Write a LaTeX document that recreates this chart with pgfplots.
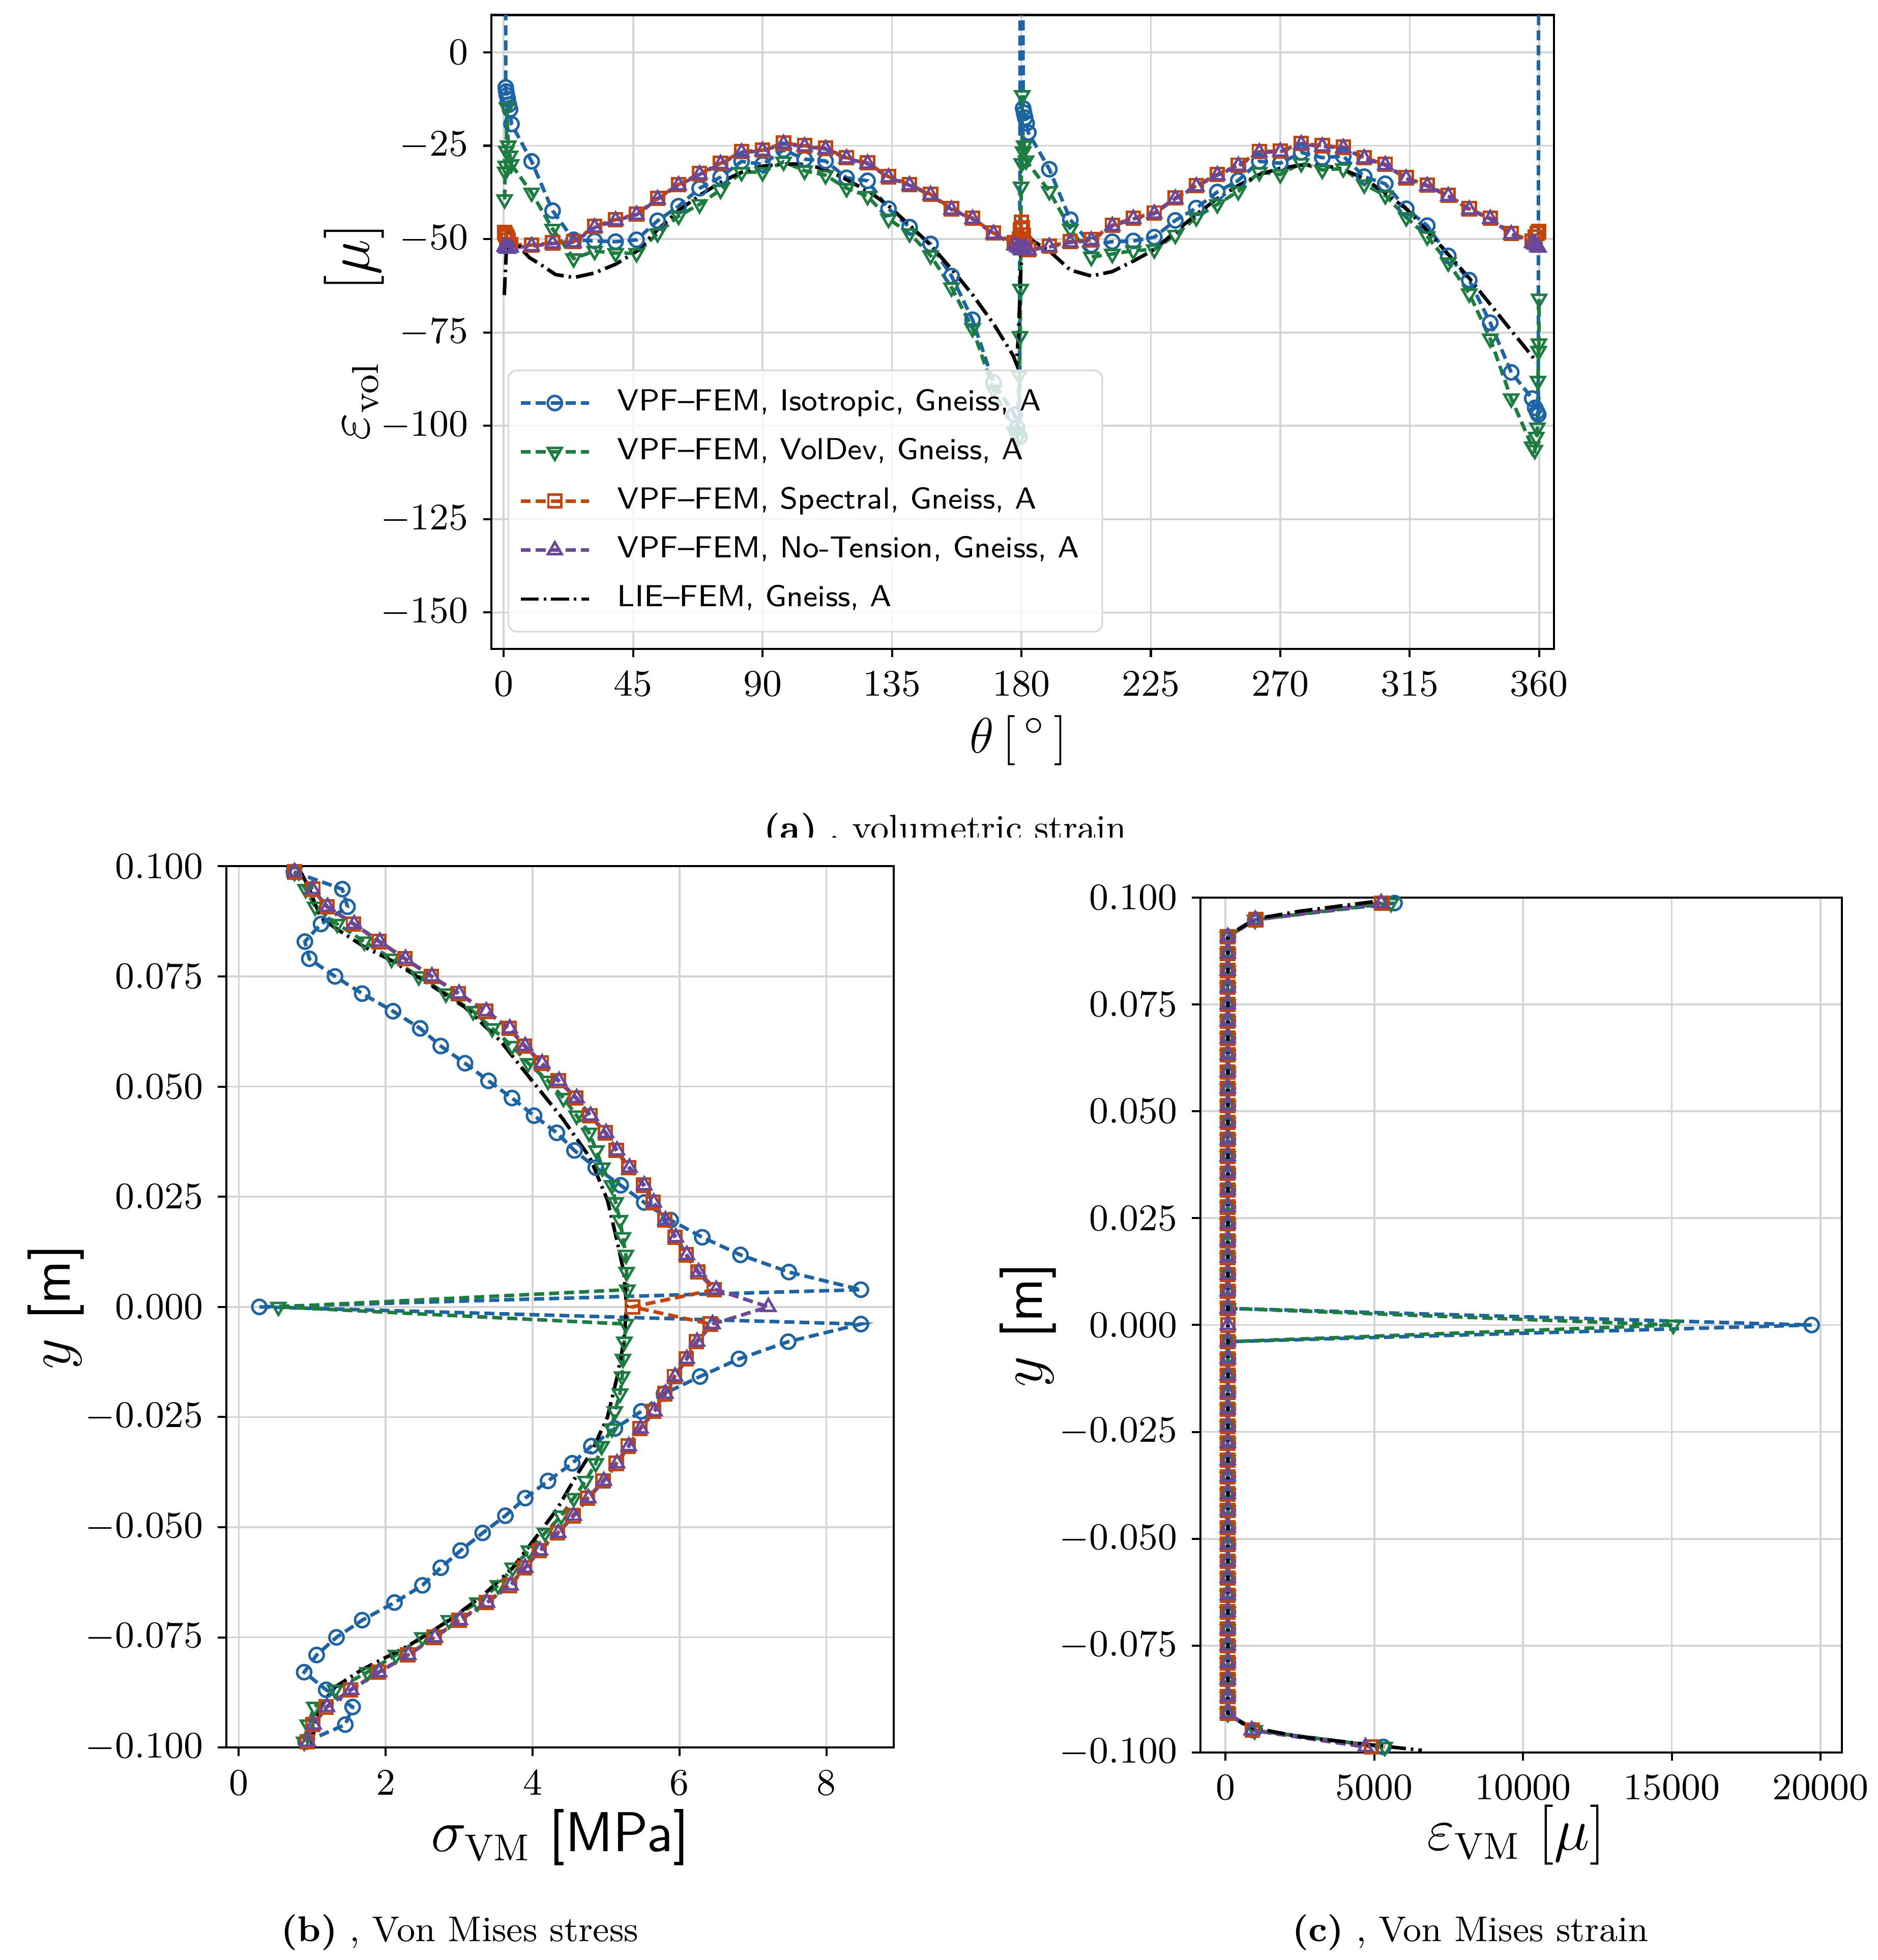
\documentclass[border=0pt]{standalone}
\usepackage{pgfplots}
\usepackage{pgfplotstable}
\pgfplotsset{compat=1.18}

\definecolor{cIso}{RGB}{28,100,168}
\definecolor{cVD}{RGB}{28,126,62}
\definecolor{cSp}{RGB}{200,68,6}
\definecolor{cNT}{RGB}{105,72,155}

\pgfplotsset{
  every axis/.append style={
    scale only axis, anchor=north west,
    tick align=outside, tick pos=left, major tick length=2pt,
    grid=major, grid style={black!17, line width=0.45pt},
    axis line style={line width=0.5pt},
    tick style={black, line width=0.5pt},
    tick label style={font=\fontsize{9.5}{11}\selectfont},
    label style={font=\fontsize{13.5}{16}\selectfont},
  },
  iso/.style={cIso, line width=0.85pt, dash pattern=on 2.4pt off 1.2pt,
    mark=o, mark size=1.7pt, mark options={solid, line width=0.6pt}},
  vd/.style={cVD, line width=0.85pt, dash pattern=on 2.4pt off 1.2pt,
    mark=triangle, mark size=1.9pt, mark options={solid, rotate=180, line width=0.6pt}},
  sp/.style={cSp, line width=0.85pt, dash pattern=on 2.4pt off 1.2pt,
    mark=square, mark size=1.55pt, mark options={solid, line width=0.6pt}},
  nt/.style={cNT, line width=0.85pt, dash pattern=on 2.4pt off 1.2pt,
    mark=triangle, mark size=1.9pt, mark options={solid, line width=0.6pt}},
  lie/.style={black, line width=0.85pt, dash pattern=on 4.3pt off 1.2pt on 0.6pt off 1.2pt},
}

% sigma_VM along y (MPa)
\pgfplotstableread{
y iso vd sp nt
0.0987 0.75 0.76 0.76 0.76
0.0948 1.41 0.91 1.01 1.00
0.0908 1.48 1.04 1.20 1.21
0.0869 1.12 1.34 1.56 1.57
0.0829 0.90 1.71 1.91 1.92
0.0790 0.96 2.08 2.26 2.27
0.0750 1.31 2.45 2.62 2.63
0.0711 1.68 2.82 2.99 3.00
0.0671 2.10 3.19 3.36 3.37
0.0632 2.47 3.45 3.68 3.69
0.0592 2.75 3.72 3.89 3.90
0.0553 3.08 3.94 4.12 4.13
0.0513 3.40 4.21 4.35 4.36
0.0474 3.72 4.42 4.59 4.60
0.0434 4.02 4.60 4.78 4.79
0.0395 4.33 4.77 4.99 5.00
0.0355 4.57 4.87 5.14 5.15
0.0316 4.86 4.95 5.31 5.32
0.0276 5.20 5.08 5.51 5.52
0.0237 5.52 5.13 5.64 5.65
0.0197 5.88 5.19 5.80 5.81
0.0158 6.31 5.23 5.94 5.95
0.0118 6.83 5.27 6.09 6.10
0.0079 7.49 5.28 6.25 6.26
0.0039 8.47 5.29 6.47 6.50
0.0000 0.28 0.54 5.36 7.21
-0.0039 8.47 5.27 6.42 6.45
-0.0079 7.48 5.25 6.23 6.24
-0.0118 6.81 5.23 6.09 6.10
-0.0158 6.28 5.22 5.93 5.94
-0.0197 5.79 5.19 5.80 5.81
-0.0237 5.48 5.12 5.65 5.66
-0.0276 5.12 5.08 5.46 5.47
-0.0316 4.80 4.94 5.30 5.31
-0.0355 4.54 4.86 5.14 5.15
-0.0395 4.21 4.72 4.96 4.97
-0.0434 3.90 4.56 4.75 4.76
-0.0474 3.63 4.39 4.55 4.56
-0.0513 3.32 4.17 4.34 4.35
-0.0553 3.02 3.95 4.09 4.10
-0.0592 2.75 3.73 3.89 3.90
-0.0632 2.50 3.53 3.69 3.70
-0.0671 2.12 3.25 3.37 3.38
-0.0711 1.68 2.86 3.00 3.01
-0.0750 1.33 2.50 2.66 2.67
-0.0790 1.06 2.14 2.30 2.31
-0.0829 0.89 1.75 1.90 1.91
-0.0869 1.19 1.31 1.52 1.53
-0.0908 1.55 1.03 1.19 1.20
-0.0948 1.45 0.94 1.01 1.02
-0.0987 0.91 0.89 0.93 0.94
}\sigtab

% eps_VM along y (micro)
\pgfplotstableread{
y iso vd sp nt
0.0987 5680 5560 5250 5230
0.0948 1000 990 1020 1000
0.0908 80 75 70 75
0.0869 80 75 70 75
0.0829 80 75 70 75
0.0790 80 75 70 75
0.0750 80 75 70 75
0.0711 80 75 70 75
0.0671 80 75 70 75
0.0632 80 75 70 75
0.0592 80 75 70 75
0.0553 80 75 70 75
0.0513 80 75 70 75
0.0474 80 75 70 75
0.0434 80 75 70 75
0.0395 80 75 70 75
0.0355 80 75 70 75
0.0316 80 75 70 75
0.0276 80 75 70 75
0.0237 80 75 70 75
0.0197 80 75 70 75
0.0158 80 75 70 75
0.0118 80 75 70 75
0.0079 80 75 70 75
0.0039 90 85 70 75
0.0000 19700 15050 80 80
-0.0039 90 85 70 75
-0.0079 80 75 70 75
-0.0118 80 75 70 75
-0.0158 80 75 70 75
-0.0197 80 75 70 75
-0.0237 80 75 70 75
-0.0276 80 75 70 75
-0.0316 80 75 70 75
-0.0355 80 75 70 75
-0.0395 80 75 70 75
-0.0434 80 75 70 75
-0.0474 80 75 70 75
-0.0513 80 75 70 75
-0.0553 80 75 70 75
-0.0592 80 75 70 75
-0.0632 80 75 70 75
-0.0671 80 75 70 75
-0.0711 80 75 70 75
-0.0750 80 75 70 75
-0.0790 80 75 70 75
-0.0829 80 75 70 75
-0.0869 80 75 70 75
-0.0908 80 75 70 75
-0.0948 950 980 900 880
-0.0987 5300 5350 4900 4700
}\epstab

\begin{document}
\begin{tikzpicture}
\useasboundingbox (0pt,0pt) rectangle (450.6pt,-470.4pt);

% ---------------- (a) volumetric strain ----------------
\begin{axis}[
  at={(117.9pt,-3.6pt)}, width=255pt, height=152.1pt,
  xmin=-4.3, xmax=365.2, ymin=-159.7, ymax=10,
  xtick={0,45,90,135,180,225,270,315,360},
  ytick={-150,-125,-100,-75,-50,-25,0},
  xlabel={$\theta\,[\,{}^{\circ}\,]$},
  ylabel={$\varepsilon_{\mathrm{vol}}\hspace{17pt}[\mu]$},
  xlabel style={at={(axis description cs:0.496,-0.145)}, anchor=center,
    font=\fontsize{13}{15}\selectfont},
  ylabel style={at={(axis description cs:-0.129,0.5)}, anchor=center},
  legend cell align=left,
  legend image code/.code={\draw[mark repeat=2, mark phase=2] plot coordinates {(0pt,0pt) (8.2pt,0pt) (16.4pt,0pt)};
    \path (19.8pt,0pt);},
  legend style={at={(axis description cs:0.0153,0.0256)}, anchor=south west,
    draw=black!15, rounded corners=2pt, fill=white, fill opacity=0.8, text opacity=1,
    font=\fontsize{7.3}{8.5}\sffamily, row sep=1.1pt, inner sep=2.5pt,
    nodes={inner xsep=3pt}},
]
\addplot[iso] coordinates {
(0.7,200) (0.7,-9.4) (0.9,-10.5) (1.1,-11.5) (1.4,-12.5) (1.8,-14.0) (2.2,-15.3) (2.7,-19.2)
(9.7,-29.2) (17.0,-42.4) (24.3,-50.2) (31.6,-50.5) (38.9,-50.7) (46.2,-50.2) (53.5,-45.1)
(60.8,-41.2) (68.1,-36.4) (75.4,-33.4) (82.7,-29.2) (90.0,-30.0) (97.3,-26.1) (104.6,-28.6)
(111.9,-29.1) (119.2,-33.6) (126.5,-34.4) (133.8,-41.9) (141.1,-46.8) (148.4,-51.3)
(155.7,-59.9) (163.0,-71.6) (170.3,-88.4) (177.6,-97.0) (178.5,-100.5) (179.3,-103.0)
(180.0,200) (180.6,-15.0) (180.9,-16.2) (181.3,-17.5) (181.8,-19.0) (182.4,-21.5)
(189.7,-31.3) (197.0,-44.8) (204.3,-51.6) (211.6,-50.7) (218.9,-50.5) (226.2,-49.5)
(233.5,-45.0) (240.8,-41.7) (248.1,-37.4) (255.4,-34.3) (262.7,-29.2) (270.0,-29.7)
(277.3,-26.8) (284.6,-28.2) (291.9,-27.8) (299.2,-33.3) (306.5,-35.2) (313.8,-41.9)
(321.1,-46.4) (328.4,-54.5) (335.7,-61.0) (343.0,-72.4) (350.3,-85.7) (357.6,-92.7)
(358.6,-95.2) (359.3,-96.3) (359.7,-97.0) (360.0,200)
};
\addlegendentry{VPF--FEM, Isotropic, Gneiss, A}
\addplot[vd] coordinates {
(0.3,-39.4) (0.5,-32.0) (0.7,-30.4) (0.9,-26.4) (1.1,-14.7) (1.6,-25.0) (2.2,-27.7) (2.6,-30.0)
(9.7,-37.6) (17.0,-47.3) (24.3,-55.2) (31.6,-53.2) (38.9,-53.8) (46.2,-53.8) (53.5,-48.5)
(60.8,-43.8) (68.1,-40.7) (75.4,-36.8) (82.7,-32.1) (90.0,-32.1) (97.3,-29.3) (104.6,-31.7)
(111.9,-32.9) (119.2,-36.4) (126.5,-38.5) (133.8,-44.6) (141.1,-48.5) (148.4,-54.4)
(155.7,-63.0) (163.0,-73.9) (170.3,-90.4) (177.6,-101.7) (178.6,-103.5) (179.2,-86.5)
(179.5,-76.0) (179.7,-63.4) (179.9,-36.0) (180.1,-29.7) (180.3,-11.5) (180.6,-26.6)
(181.0,-25.0) (181.6,-29.0)
(189.7,-37.2) (197.0,-47.3) (204.3,-54.8) (211.6,-54.0) (218.9,-53.1) (226.2,-52.8)
(233.5,-48.9) (240.8,-44.2) (248.1,-40.7) (255.4,-37.2) (262.7,-32.1) (270.0,-32.7)
(277.3,-29.7) (284.6,-31.5) (291.9,-31.1) (299.2,-35.4) (306.5,-38.3) (313.8,-44.2)
(321.1,-49.3) (328.4,-56.3) (335.7,-64.6) (343.0,-76.7) (350.3,-92.7) (357.6,-105.6)
(358.5,-106.5) (359.0,-103.0) (359.4,-100.5) (359.6,-88.0) (359.8,-80.0) (359.9,-78.0) (360.0,-66.0)
};
\addlegendentry{VPF--FEM, VolDev, Gneiss, A}
\addplot[sp] coordinates {
(0.3,-48.2) (0.7,-48.8) (1.1,-49.5) (1.6,-50.3) (2.4,-51.5) (9.7,-51.6) (17.0,-51.0)
(24.3,-50.7) (31.6,-46.6) (38.9,-44.8) (46.2,-43.3) (53.5,-39.1) (60.8,-35.4) (68.1,-32.5)
(75.4,-29.7) (82.7,-26.6) (90.0,-26.2) (97.3,-24.3) (104.6,-25.0) (111.9,-25.7) (119.2,-28.2)
(126.5,-29.6) (133.8,-33.3) (141.1,-35.4) (148.4,-38.0) (155.7,-41.9) (163.0,-44.4)
(170.3,-48.4) (177.6,-51.0) (178.6,-51.5) (179.3,-50.0) (179.7,-47.5) (180.0,-45.5)
(180.3,-47.0) (180.7,-49.0) (181.2,-51.5) (182.5,-52.8) (189.7,-51.9) (197.0,-50.7)
(204.3,-50.2) (211.6,-46.3) (218.9,-44.4) (226.2,-43.0) (233.5,-39.0) (240.8,-35.7)
(248.1,-32.7) (255.4,-30.2) (262.7,-26.6) (270.0,-26.4) (277.3,-24.4) (284.6,-25.0)
(291.9,-25.4) (299.2,-28.2) (306.5,-30.0) (313.8,-33.6) (321.1,-35.6) (328.4,-38.3)
(335.7,-41.9) (343.0,-44.4) (350.3,-48.5) (357.6,-50.5) (358.6,-49.5) (359.3,-48.5) (359.8,-48.0)
};
\addlegendentry{VPF--FEM, Spectral, Gneiss, A}
\addplot[nt] coordinates {
(0.3,-52.0) (0.8,-52.4) (1.5,-52.6) (2.4,-52.3) (9.7,-51.9) (17.0,-51.2) (24.3,-50.9)
(31.6,-46.9) (38.9,-45.0) (46.2,-43.5) (53.5,-39.3) (60.8,-35.6) (68.1,-32.7) (75.4,-29.9)
(82.7,-26.8) (90.0,-26.4) (97.3,-24.5) (104.6,-25.2) (111.9,-25.9) (119.2,-28.4) (126.5,-29.8)
(133.8,-33.5) (141.1,-35.6) (148.4,-38.2) (155.7,-42.1) (163.0,-44.6) (170.3,-48.6)
(177.6,-51.6) (178.6,-52.2) (179.5,-52.6) (180.0,-53.0) (180.5,-52.6) (181.5,-52.2)
(182.5,-53.0) (189.7,-52.1) (197.0,-50.9) (204.3,-50.4) (211.6,-46.5) (218.9,-44.6)
(226.2,-43.2) (233.5,-39.2) (240.8,-35.9) (248.1,-32.9) (255.4,-30.4) (262.7,-26.8)
(270.0,-26.6) (277.3,-24.6) (284.6,-25.2) (291.9,-25.6) (299.2,-28.4) (306.5,-30.2)
(313.8,-33.8) (321.1,-35.8) (328.4,-38.5) (335.7,-42.1) (343.0,-44.6) (350.3,-48.7)
(357.6,-51.0) (358.6,-51.5) (359.3,-52.0) (359.8,-52.3)
};
\addlegendentry{VPF--FEM, No-Tension, Gneiss, A}
\addplot[lie] coordinates {
(0.2,-65.0) (0.6,-58.0) (1.0,-52.0) (1.5,-48.5) (2.0,-47.5) (3.5,-49.5) (5.8,-52.4) (9.0,-55.0)
(12.6,-56.7) (18.0,-59.5) (24.4,-60.3) (31.5,-59.1) (39.0,-56.7) (46.4,-53.2) (53.2,-47.7)
(60.9,-42.3) (68.1,-38.3) (75.4,-34.8) (82.7,-32.1) (90.0,-30.5) (97.4,-29.9) (102.6,-29.9)
(108.7,-30.7) (114.0,-32.1) (119.0,-34.0) (127.6,-37.6) (133.8,-41.1) (141.0,-46.2)
(148.4,-51.6) (156.0,-58.3) (163.0,-64.9) (170.4,-72.8) (177.0,-81.0) (178.3,-83.5)
(179.0,-75.0) (179.6,-62.0) (180.2,-52.0) (181.0,-47.8) (181.6,-48.2) (184.0,-50.5)
(189.7,-53.2) (197.0,-58.3) (204.3,-59.9) (211.6,-58.7) (218.9,-55.9) (226.2,-52.8)
(233.4,-48.1) (240.8,-43.4) (248.2,-39.1) (255.5,-35.6) (262.8,-32.7) (269.7,-31.1)
(277.1,-30.2) (284.5,-30.2) (291.8,-31.3) (299.1,-33.8) (306.4,-37.6) (313.8,-41.9)
(321.0,-47.7) (328.3,-54.0) (335.5,-60.3) (342.8,-67.3) (350.1,-74.3) (357.6,-81.4) (359.0,-83.0)
};
\addlegendentry{LIE--FEM, Gneiss, A}
\end{axis}

\begin{scope}
\clip (150pt,-190pt) rectangle (300pt,-201pt);
\node[anchor=base, font=\fontsize{8.6}{10.5}\selectfont, inner sep=0pt] at (226.8pt,-201.6pt)
  {\textbf{(a)} , volumetric strain};
\end{scope}

% ---------------- (b) Von Mises stress ----------------
\begin{axis}[
  at={(54.3pt,-207.9pt)}, width=160.2pt, height=211.5pt,
  xmin=-0.17, xmax=8.92, ymin=-0.1, ymax=0.1,
  xtick={0,2,4,6,8},
  ytick={-0.1,-0.075,-0.05,-0.025,0,0.025,0.05,0.075,0.1},
  yticklabel style={/pgf/number format/.cd, fixed, fixed zerofill, precision=3},
  xlabel={$\sigma_{\mathrm{VM}}$ \textsf{[MPa]}},
  ylabel={$y$ \textsf{[m]}},
  xlabel style={at={(axis description cs:0.5,-0.102)}, anchor=center},
  ylabel style={at={(axis description cs:-0.255,0.5)}, anchor=center},
]
\addplot[iso] table[x=iso, y=y] {\sigtab};
\addplot[vd] table[x=vd, y=y] {\sigtab};
\addplot[sp] table[x=sp, y=y] {\sigtab};
\addplot[nt] table[x=nt, y=y] {\sigtab};
\addplot[lie] coordinates {
(0.83,0.0991) (0.96,0.0950) (1.04,0.0914) (1.12,0.0883) (1.34,0.0857) (1.71,0.0817)
(2.08,0.0786) (2.55,0.0737) (3.08,0.0680) (3.56,0.0604) (3.98,0.0516) (4.41,0.0427)
(4.78,0.0339) (5.02,0.0242) (5.15,0.0150) (5.24,0.0080) (5.28,0.0000) (5.24,-0.0080)
(5.15,-0.0160) (5.02,-0.0250) (4.80,-0.0330) (4.60,-0.0382) (4.33,-0.0460) (4.05,-0.0522)
(3.73,-0.0592) (3.33,-0.0654) (2.86,-0.0712) (2.30,-0.0770) (1.67,-0.0824) (1.31,-0.0863)
(1.07,-0.0918) (0.99,-0.0995)
};
\end{axis}
\node[anchor=base, font=\fontsize{8.6}{10.5}\selectfont, inner sep=0pt] at (110.3pt,-466pt)
  {\textbf{(b)} , Von Mises stress};

% ---------------- (c) Von Mises strain ----------------
\begin{axis}[
  at={(288pt,-215.4pt)}, width=153.9pt, height=205.2pt,
  xmin=-850, xmax=20710, ymin=-0.1, ymax=0.1,
  xtick={0,5000,10000,15000,20000},
  scaled x ticks=false,
  xticklabel style={/pgf/number format/1000 sep={}},
  ytick={-0.1,-0.075,-0.05,-0.025,0,0.025,0.05,0.075,0.1},
  yticklabel style={/pgf/number format/.cd, fixed, fixed zerofill, precision=3},
  xlabel={$\varepsilon_{\mathrm{VM}}\;[\mu]$},
  ylabel={$y$ \textsf{[m]}},
  xlabel style={at={(axis description cs:0.493,-0.0965)}, anchor=center},
  ylabel style={at={(axis description cs:-0.269,0.5)}, anchor=center},
]
\addplot[iso] table[x=iso, y=y] {\epstab};
\addplot[vd] table[x=vd, y=y] {\epstab};
\addplot[sp] table[x=sp, y=y] {\epstab};
\addplot[nt] table[x=nt, y=y] {\epstab};
\addplot[lie] coordinates {
(4950,0.0990) (2500,0.0968) (1000,0.0950) (80,0.0911) (80,-0.0913) (900,-0.0942)
(2500,-0.0963) (4500,-0.0979) (6600,-0.0995)
};
\end{axis}
\node[anchor=base, font=\fontsize{8.6}{10.5}\selectfont, inner sep=0pt] at (352.8pt,-466pt)
  {\textbf{(c)} , Von Mises strain};
\end{tikzpicture}
\end{document}
